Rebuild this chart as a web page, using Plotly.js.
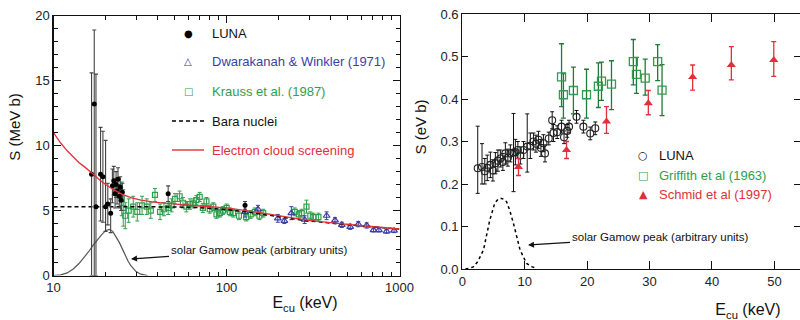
<!DOCTYPE html>
<html><head><meta charset="utf-8">
<script src="https://cdn.plot.ly/plotly-3.0.1.min.js"></script>
<style>html,body{margin:0;padding:0;background:#fff}#chart{width:800px;height:320px}</style>
</head><body><div id="chart"></div>
<script>
// ---------- Left panel data (S in MeV b, E in keV) ----------
const lunaL_E  = [16.6, 17.2, 17.6, 18.7, 19.3, 20.0, 20.6, 21.4, 21.9, 22.3, 22.7, 23.0, 23.3, 23.6, 24.0, 24.3, 24.6, 25.0, 46.0, 128];
const lunaL_S  = [7.8, 13.2, 5.3, 7.8, 7.6, 5.3, 5.5, 4.8, 6.9, 7.3, 6.3, 7.0, 6.5, 7.4, 6.1, 6.8, 5.8, 6.4, 6.3, 5.4];
const lunaL_up = [7.8, 5.7, 10.2, 3.6, 3.5, 5.1, 1.6, 1.1, 1.3, 1.1, 1.1, 1.0, 1.0, 0.9, 0.9, 0.8, 0.8, 0.7, 0.6, 0.3];
const lunaL_dn = [7.8, 13.2, 5.3, 3.6, 3.5, 1.9, 1.6, 1.5, 1.3, 1.1, 1.1, 1.0, 1.0, 0.9, 0.9, 0.8, 0.8, 0.7, 0.6, 0.3];

const krE   = [24.8, 25.3, 26.0, 27.2, 28.9, 30.5, 32.5, 34.6, 36.5, 38.6, 41.3, 43.5, 46.0, 48.2, 50.4, 53.6, 56.0, 58.6, 61.5, 64.3, 67.0, 70.0, 73.0, 76.6, 80.0, 83.9, 87.5, 91.6, 95.5, 100.2, 104.5, 109.3, 118, 130, 138, 146, 155, 163, 248, 262, 272, 290, 305, 318, 340];
const krS   = [5.9, 5.2, 4.6, 5.0, 5.3, 4.9, 5.4, 5.3, 5.0, 6.2, 4.9, 5.1, 5.2, 5.4, 5.9, 6.1, 5.6, 5.3, 5.5, 5.55, 5.8, 6.05, 5.2, 5.7, 5.1, 5.3, 4.7, 4.8, 5.0, 5.2, 4.9, 4.8, 4.6, 4.5, 4.7, 4.9, 4.6, 4.8, 4.9, 4.7, 4.8, 5.3, 4.6, 4.5, 4.5];
const krErr = [1.3, 1.4, 1.0, 0.9, 0.8, 0.7, 0.7, 0.6, 0.6, 0.5, 0.6, 0.5, 0.5, 0.5, 0.4, 0.4, 0.4, 0.4, 0.4, 0.35, 0.35, 0.35, 0.35, 0.3, 0.3, 0.3, 0.3, 0.3, 0.3, 0.3, 0.3, 0.3, 0.3, 0.3, 0.3, 0.3, 0.3, 0.3, 0.3, 0.3, 0.3, 0.5, 0.3, 0.3, 0.3];

const dwE   = [128, 152, 198, 216, 237, 283, 379, 424, 464, 519, 578, 646, 708, 760, 842, 930];
const dwS   = [4.9, 5.1, 4.4, 4.2, 4.8, 4.3, 4.6, 4.25, 3.9, 3.75, 3.95, 3.85, 3.5, 3.5, 3.4, 3.45];
const dwErr = [0.4, 0.3, 0.3, 0.2, 0.5, 0.3, 0.3, 0.2, 0.2, 0.2, 0.2, 0.2, 0.15, 0.15, 0.15, 0.15];

const scrE = [10, 11, 12, 13, 14, 15, 16, 17, 18.5, 20, 22, 25, 28, 32, 38, 45, 55, 70, 100, 130, 190, 290, 450, 700, 1000];
const scrS = [11.0, 10.2, 9.6, 9.1, 8.7, 8.4, 8.1, 7.8, 7.35, 7.0, 6.65, 6.25, 6.0, 5.8, 5.65, 5.55, 5.45, 5.35, 5.2, 5.0, 4.65, 4.27, 4.0, 3.75, 3.58];

const bareE = [10, 20, 30, 50, 70, 100, 130, 190, 290, 450, 700, 1000];
const bareS = [5.3, 5.3, 5.3, 5.28, 5.22, 5.07, 4.9, 4.58, 4.22, 3.97, 3.73, 3.57];

const gamL_E = [10, 11, 12, 13, 14, 15, 16, 17, 18, 19, 20, 21, 22, 23, 24, 25, 26, 27, 28, 29, 30, 32, 35];
const gamL_S = [0, 0.05, 0.2, 0.5, 0.9, 1.35, 1.85, 2.35, 2.8, 3.15, 3.45, 3.55, 3.4, 3.0, 2.55, 2.05, 1.55, 1.1, 0.75, 0.5, 0.3, 0.1, 0];

// ---------- Right panel data (S in eV b, E in keV) ----------
const luE  = [2.47, 3.16, 3.6, 4.0, 4.5, 4.9, 5.3, 5.7, 6.1, 6.5, 6.9, 7.3, 7.7, 8.2, 8.5, 8.9, 9.3, 9.8, 10.4, 10.9, 11.4, 11.8, 12.2, 12.6, 13.0, 13.25, 13.85, 14.4, 14.6, 15.2, 15.9, 16.3, 16.8, 17.1, 18.3, 19.4, 20.5, 21.3];
const luS  = [0.237, 0.24, 0.23, 0.238, 0.245, 0.232, 0.249, 0.255, 0.26, 0.252, 0.272, 0.262, 0.272, 0.274, 0.275, 0.28, 0.267, 0.28, 0.288, 0.29, 0.30, 0.295, 0.304, 0.285, 0.296, 0.272, 0.307, 0.35, 0.32, 0.322, 0.335, 0.31, 0.325, 0.335, 0.358, 0.335, 0.319, 0.331];
const luUp = [0.099, 0.055, 0.03, 0.03, 0.03, 0.025, 0.025, 0.025, 0.02, 0.02, 0.025, 0.02, 0.02, 0.092, 0.03, 0.02, 0.02, 0.02, 0.077, 0.03, 0.02, 0.02, 0.02, 0.02, 0.02, 0.02, 0.015, 0.02, 0.02, 0.015, 0.015, 0.015, 0.015, 0.015, 0.015, 0.015, 0.015, 0.015];
const luDn = [0.059, 0.04, 0.03, 0.03, 0.03, 0.025, 0.025, 0.025, 0.02, 0.02, 0.025, 0.02, 0.02, 0.092, 0.03, 0.02, 0.02, 0.02, 0.06, 0.03, 0.02, 0.02, 0.02, 0.02, 0.02, 0.02, 0.015, 0.02, 0.02, 0.015, 0.015, 0.015, 0.015, 0.015, 0.015, 0.015, 0.015, 0.015];

const grE  = [15.9, 16.2, 17.8, 19.9, 21.8, 22.3, 23.9, 27.4, 27.9, 29.3, 31.3, 32.0];
const grS  = [0.452, 0.41, 0.42, 0.41, 0.43, 0.442, 0.435, 0.488, 0.458, 0.449, 0.488, 0.421];
const grUp = [0.078, 0.05, 0.055, 0.06, 0.055, 0.045, 0.055, 0.052, 0.04, 0.045, 0.04, 0.06];
const grDn = [0.07, 0.055, 0.055, 0.055, 0.05, 0.045, 0.06, 0.055, 0.045, 0.04, 0.045, 0.06];

const scE  = [9.0, 16.7, 23.1, 29.8, 36.9, 43.1, 49.9];
const scS  = [0.24, 0.28, 0.347, 0.39, 0.452, 0.48, 0.492];
const scUp = [0.02, 0.02, 0.035, 0.03, 0.028, 0.043, 0.043];
const scDn = [0.02, 0.02, 0.028, 0.027, 0.031, 0.035, 0.039];

const gamR_E = [0.5, 1, 1.76, 2.5, 3.4, 4.4, 5.2, 5.8, 6.3, 6.8, 7.1, 7.6, 8.2, 8.7, 9.25, 10.3, 11.2, 11.9];
const gamR_S = [0, 0.001, 0.005, 0.018, 0.045, 0.115, 0.155, 0.165, 0.166, 0.163, 0.158, 0.138, 0.107, 0.075, 0.045, 0.013, 0.005, 0.002];

// ---------- Styles ----------
const FONT = 'Liberation Sans, Arial, Helvetica, sans-serif';
const GREEN = '#2f9e4c', BLUE = '#3a3fa6', RED = '#e0303a';

const traces = [
  // left panel
  {x: gamL_E, y: gamL_S, type: 'scatter', mode: 'lines', line: {color: '#555', width: 1.2}, xaxis: 'x', yaxis: 'y', hoverinfo: 'skip'},
  {x: krE, y: krS, type: 'scatter', mode: 'markers', xaxis: 'x', yaxis: 'y',
   marker: {symbol: 'square-open', size: 5, color: GREEN, line: {width: 1.2}},
   error_y: {type: 'data', array: krErr, color: GREEN, thickness: 1, width: 2}},
  {x: dwE, y: dwS, type: 'scatter', mode: 'markers', xaxis: 'x', yaxis: 'y',
   marker: {symbol: 'triangle-up-open', size: 6, color: BLUE, line: {width: 1.2}},
   error_y: {type: 'data', array: dwErr, color: BLUE, thickness: 1, width: 2}},
  {x: bareE, y: bareS, type: 'scatter', mode: 'lines', line: {color: '#000', width: 1.5, dash: '4px,3px'}, xaxis: 'x', yaxis: 'y'},
  {x: lunaL_E, y: lunaL_S, type: 'scatter', mode: 'markers', xaxis: 'x', yaxis: 'y',
   marker: {symbol: 'circle', size: 5, color: '#000'},
   error_y: {type: 'data', symmetric: false, array: lunaL_up, arrayminus: lunaL_dn, color: '#444', thickness: 1.1, width: 2}},
  {x: scrE, y: scrS, type: 'scatter', mode: 'lines', line: {color: RED, width: 1.3}, xaxis: 'x', yaxis: 'y'},
  // right panel
  {x: gamR_E, y: gamR_S, type: 'scatter', mode: 'lines', line: {color: '#000', width: 1.5, dash: 'dot'}, xaxis: 'x2', yaxis: 'y2'},
  {x: luE, y: luS, type: 'scatter', mode: 'markers', xaxis: 'x2', yaxis: 'y2',
   marker: {symbol: 'circle-open', size: 7, color: '#222', line: {width: 1.1}},
   error_y: {type: 'data', symmetric: false, array: luUp, arrayminus: luDn, color: '#111', thickness: 1, width: 2}},
  {x: grE, y: grS, type: 'scatter', mode: 'markers', xaxis: 'x2', yaxis: 'y2',
   marker: {symbol: 'square-open', size: 8, color: GREEN, line: {width: 1.3}},
   error_y: {type: 'data', symmetric: false, array: grUp, arrayminus: grDn, color: '#1f7a38', thickness: 1.3, width: 2.5}},
  {x: scE, y: scS, type: 'scatter', mode: 'markers', xaxis: 'x2', yaxis: 'y2',
   marker: {symbol: 'triangle-up', size: 8, color: RED},
   error_y: {type: 'data', symmetric: false, array: scUp, arrayminus: scDn, color: RED, thickness: 1.3, width: 2.5}}
];

const axBase = {showline: true, linecolor: '#111', linewidth: 1.2, mirror: 'ticks', ticks: 'inside', tickcolor: '#111',
  showgrid: false, zeroline: false, tickfont: {family: FONT, size: 13, color: '#222'}};
const YT = {family: FONT, size: 15, color: '#111'};
const XT = {family: FONT, size: 16, color: '#111'};

const minorLog = [20,30,40,50,60,70,80,90,200,300,400,500,600,700,800,900];

const layout = {
  width: 800, height: 320, margin: {l: 0, r: 0, t: 0, b: 0},
  paper_bgcolor: '#fff', plot_bgcolor: '#fff', showlegend: false,
  font: {family: FONT, color: '#222'},
  xaxis: Object.assign({}, axBase, {type: 'log', domain: [53.5/800, 399.5/800], range: [1, 3], anchor: 'y',
    tickvals: [10, 100, 1000], ticktext: ['10', '100', '1000'], ticklen: 7,
    minor: {tickvals: minorLog, ticks: 'inside', ticklen: 4, tickcolor: '#111'},
    title: {text: 'E<sub>cu</sub> (keV)', font: XT}}),
  yaxis: Object.assign({}, axBase, {domain: [1 - 275.5/320, 1 - 15.7/320], range: [0, 20], anchor: 'x',
    tickvals: [0, 5, 10, 15, 20], ticklen: 7,
    minor: {dtick: 1, ticks: 'inside', ticklen: 4, tickcolor: '#111'},
    title: {text: 'S (MeV b)', font: YT}}),
  xaxis2: Object.assign({}, axBase, {domain: [462.3/800, 1], range: [0, 54.1], anchor: 'y2',
    dtick: 10, tick0: 0, ticklen: 8, title: {text: 'E<sub>cu</sub> (keV)', font: XT}}),
  yaxis2: Object.assign({}, axBase, {domain: [1 - 269/320, 1 - 14/320], range: [0, 0.6], anchor: 'x2',
    dtick: 0.1, tick0: 0, ticklen: 6, tickformat: '.1f', title: {text: 'S (eV b)', font: YT}}),
  shapes: [
    {type: 'line', xref: 'paper', yref: 'paper', x0: 172/800, x1: 204/800, y0: 1 - 121/320, y1: 1 - 121/320,
     line: {color: '#000', width: 1.5, dash: '4px,3px'}},
    {type: 'line', xref: 'paper', yref: 'paper', x0: 172/800, x1: 204/800, y0: 1 - 150/320, y1: 1 - 150/320,
     line: {color: RED, width: 1.4}}
  ],
  annotations: []
};

// where each axis title sits in the reference (centre, px)
const titlePos = {xtitle: [305, 304], ytitle: [15, 127], x2title: [748, 311], y2title: [420, 127]};

function ann(text, px, py, opts) {
  return Object.assign({text: text, xref: 'paper', yref: 'paper', x: px/800, y: 1 - py/320,
    showarrow: false, xanchor: 'left', yanchor: 'middle', font: {family: FONT, size: 13, color: '#111'}}, opts || {});
}
const A = layout.annotations;
// left legend
A.push(ann('●', 188, 33, {xanchor: 'center', font: {family: 'DejaVu Sans', size: 10, color: '#000'}}));
A.push(ann('LUNA', 210, 33));
A.push(ann('△', 188, 62, {xanchor: 'center', font: {family: 'DejaVu Sans', size: 10, color: BLUE}}));
A.push(ann('Dwarakanah &amp; Winkler (1971)', 210, 62, {font: {family: FONT, size: 13, color: BLUE}}));
A.push(ann('□', 188, 91, {xanchor: 'center', font: {family: 'DejaVu Sans', size: 10, color: GREEN}}));
A.push(ann('Krauss et al. (1987)', 210, 91, {font: {family: FONT, size: 13, color: GREEN}}));
A.push(ann('Bara nuclei', 210, 121));
A.push(ann('Electron cloud screening', 210, 150, {font: {family: FONT, size: 13, color: RED}}));
// right legend
A.push(ann('○', 643, 155, {xanchor: 'center', font: {family: 'DejaVu Sans', size: 11, color: '#111'}}));
A.push(ann('LUNA', 657, 155));
A.push(ann('□', 643, 175, {xanchor: 'center', font: {family: 'DejaVu Sans', size: 11, color: GREEN}}));
A.push(ann('Griffith et al (1963)', 657, 175, {font: {family: FONT, size: 13, color: GREEN}}));
A.push(ann('▲', 643, 194, {xanchor: 'center', font: {family: 'DejaVu Sans', size: 11, color: RED}}));
A.push(ann('Schmid et al (1997)', 657, 194, {font: {family: FONT, size: 13, color: RED}}));
// Gamow annotations (text with arrow pointing at the peak curve)
A.push({text: 'solar Gamow peak (arbitrary units)', xref: 'paper', yref: 'paper', x: 131/800, y: 1 - 259/320,
  ax: 128, ay: -9, showarrow: true, arrowhead: 2, arrowsize: 1, arrowwidth: 1.2, arrowcolor: '#111',
  font: {family: FONT, size: 11.5, color: '#111'}});
A.push({text: 'solar Gamow peak (arbitrary units)', xref: 'paper', yref: 'paper', x: 528/800, y: 1 - 245/320,
  ax: 132, ay: -8, showarrow: true, arrowhead: 2, arrowsize: 1, arrowwidth: 1.2, arrowcolor: '#111',
  font: {family: FONT, size: 11.5, color: '#111'}});

Plotly.newPlot('chart', traces, layout, {staticPlot: true, displayModeBar: false}).then(function () {
  const svgRect = document.querySelector('#chart .main-svg').getBoundingClientRect();
  Object.keys(titlePos).forEach(function (cls) {
    const el = document.querySelector('#chart text.' + cls);
    if (!el) return;
    const r = el.getBoundingClientRect();
    const cx = r.left - svgRect.left + r.width / 2, cy = r.top - svgRect.top + r.height / 2;
    const dx = titlePos[cls][0] - cx, dy = titlePos[cls][1] - cy;
    const prev = el.getAttribute('transform') || '';
    el.setAttribute('transform', 'translate(' + dx.toFixed(1) + ',' + dy.toFixed(1) + ') ' + prev);
  });
});
</script></body></html>
